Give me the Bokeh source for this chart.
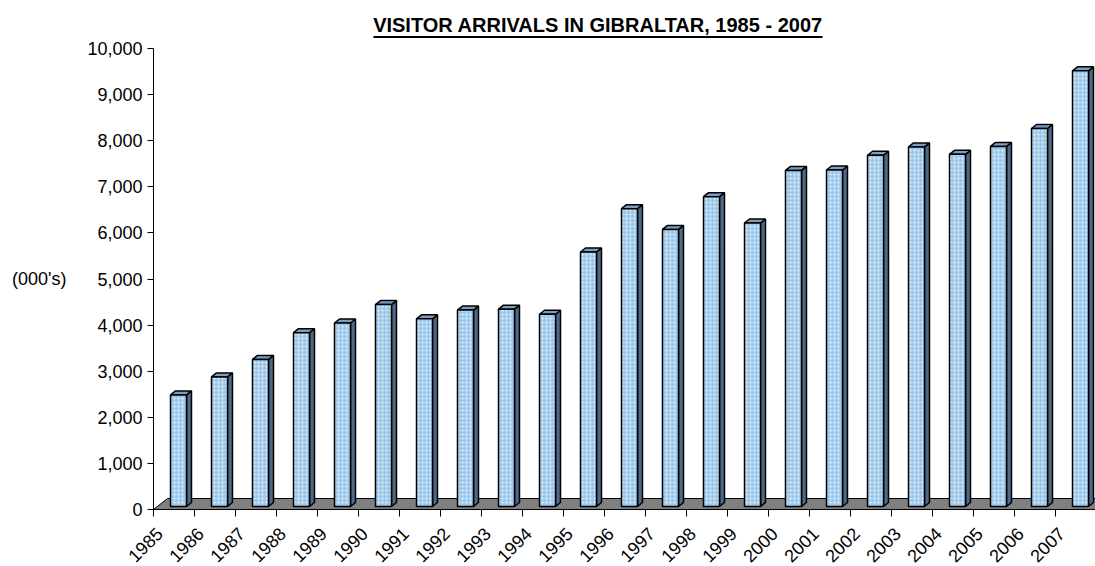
import numpy as np
from bokeh.plotting import figure
from bokeh.models import Label, FixedTicker, NumeralTickFormatter, Range1d
from bokeh.embed import file_html
from bokeh.resources import INLINE

# ---- data (thousands of visitors) ----
years = list(range(1985, 2008))
arrivals = [2420, 2810, 3190, 3770, 3980, 4380, 4070, 4260, 4280, 4170,
            5520, 6460, 6010, 6720, 6150, 7290, 7300, 7620, 7800, 7640,
            7810, 8200, 9450]
y_ticks = [0, 1000, 2000, 3000, 4000, 5000, 6000, 7000, 8000, 9000, 10000]
title_text = "VISITOR ARRIVALS IN GIBRALTAR, 1985 - 2007"
y_label = "(000's)"

# ---- geometry helpers (pixels -> data units) ----
PX_X = 41.0          # px per category
PX_Y = 46.1 / 1000   # px per unit
W, H = 1095, 566
LEFT = 153           # pixel column of the value axis
ZERO_Y = 509         # pixel row of the value 0 (the x axis)


def dx(px):
    return px / PX_X


def dy(px):
    return px / PX_Y


n = len(years)
yrs = np.array(years, dtype=float)
vals = np.array(arrivals, dtype=float)
LAB = dx(6)                  # label anchor offset from slot start
slot0 = yrs - LAB            # left edge of each category slot
x_start = slot0[0]
x_end = x_start + dx(W - LEFT)

p = figure(width=W, height=H,
           x_range=Range1d(x_start - dx(LEFT), x_end),
           y_range=Range1d(-dy(H - ZERO_Y), dy(ZERO_Y)),
           output_backend="svg", toolbar_location=None,
           min_border_left=0, min_border_right=0, min_border_top=0,
           min_border_bottom=0)
p.outline_line_color = None
p.grid.visible = False
p.background_fill_color = "white"
p.border_fill_color = "white"

# floor
fd_x, fd_y = dx(14), dy(11)
fx0, fx1 = x_start, x_end + 1
p.patch(x=[fx0, fx1, fx1 + fd_x, fx0 + fd_x], y=[0, 0, fd_y, fd_y],
        fill_color="#808080", line_color="black", line_width=1)

# bars (3D look)
left = slot0 + dx(17)
right = slot0 + dx(33)
base = dy(3)
top = vals + base
ddx, ddy = dx(5), dy(4)

side_xs = [[r, r + ddx, r + ddx, r] for r in right]
side_ys = [[base, base + ddy, t + ddy, t] for t in top]
p.patches(xs=side_xs, ys=side_ys, fill_color="#4E6888", line_color="black", line_width=1.5)

top_xs = [[l, r, r + ddx, l + ddx] for l, r in zip(left, right)]
top_ys = [[t, t, t + ddy, t + ddy] for t in top]
p.patches(xs=top_xs, ys=top_ys, fill_color="#7C9DC2", line_color="black", line_width=1.5)

p.quad(left=left, right=right, bottom=base, top=top,
       fill_color="#9CC8F2", hatch_pattern="dot", hatch_color="#F2F6D6",
       hatch_scale=4, hatch_weight=1, line_color="black", line_width=1.5)

# axes
FONT = "Liberation Sans"
ya = p.yaxis[0]
ya.fixed_location = x_start
ya.ticker = FixedTicker(ticks=y_ticks)
ya.bounds = (0, 10000)
ya.formatter = NumeralTickFormatter(format="0,0")
ya.major_label_text_font = FONT
ya.major_label_text_font_size = "18px"
ya.major_label_text_color = "black"
ya.major_tick_out = 6
ya.major_tick_in = 0
ya.minor_tick_out = 0
ya.minor_tick_in = 0
ya.axis_line_color = "black"
ya.major_tick_line_color = "black"
ya.major_label_standoff = 5
ya.axis_label = y_label
ya.axis_label_text_font = FONT
ya.axis_label_text_font_size = "18px"
ya.axis_label_text_font_style = "normal"
ya.axis_label_text_color = "black"
ya.axis_label_standoff = 18
try:
    ya.axis_label_orientation = "horizontal"
except Exception:
    pass

xa = p.xaxis[0]
xa.fixed_location = 0
xa.bounds = (x_start, x_end)
xa.ticker = FixedTicker(ticks=years, minor_ticks=list(np.append(slot0, slot0[-1] + 1)))
xa.major_label_overrides = {y: str(y) for y in years}
xa.major_tick_out = 0
xa.major_tick_in = 0
xa.major_tick_line_color = None
xa.minor_tick_out = 7
xa.minor_tick_in = 0
xa.minor_tick_line_color = "black"
xa.major_label_orientation = np.pi / 4
xa.major_label_standoff = 14
xa.major_label_text_font = FONT
xa.major_label_text_font_size = "18px"
xa.major_label_text_color = "black"
xa.axis_line_color = "black"

# title with underline (inside the frame at top)
p.add_layout(Label(x=x_start + dx(597.5 - LEFT), y=dy(ZERO_Y - 24.5), text=title_text,
                   text_align="center", text_baseline="alphabetic", text_font=FONT,
                   text_font_size="20px", text_font_style="bold", text_color="black"))
p.segment(x0=[x_start + dx(373 - LEFT)], x1=[x_start + dx(822 - LEFT)],
          y0=[dy(ZERO_Y - 36.5)], y1=[dy(ZERO_Y - 36.5)],
          line_color="black", line_width=2)

open("out.html", "w").write(file_html(p, INLINE))
